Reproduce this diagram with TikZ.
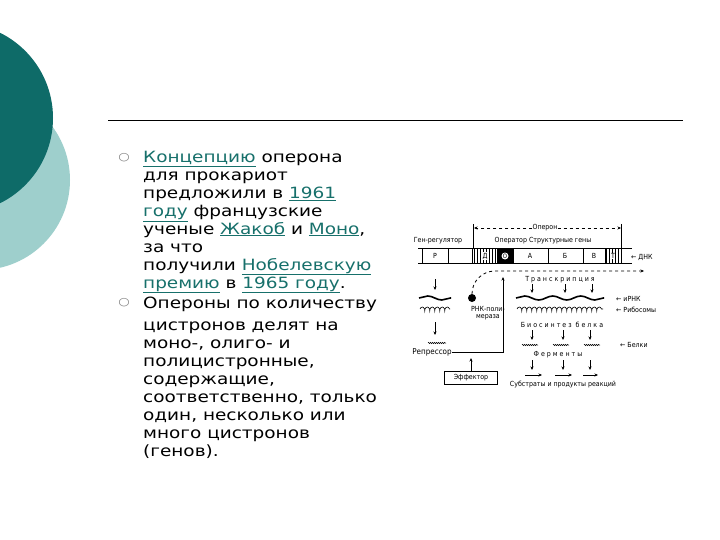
\documentclass[tikz,border=0pt]{standalone}
\usepackage{fontspec}
\setmainfont{DejaVu Sans}[FakeStretch=1.19]
\newfontfamily\dfont{DejaVu Sans Condensed}
\usetikzlibrary{arrows.meta,patterns,decorations.pathmorphing}
\definecolor{dteal}{HTML}{0E6B68}
\definecolor{lteal}{HTML}{9ECFCC}
\definecolor{link}{HTML}{17706B}
\newcommand{\lk}[1]{\textcolor{link}{\underline{#1}}}
\tikzset{tl/.style={anchor=base west,inner sep=0pt,font=\fontsize{15.5}{18}\selectfont},
 sm/.style={inner sep=0pt,font=\dfont\fontsize{7}{7.5}\selectfont},
 ar/.style={-{Stealth[length=3.5pt,width=3pt]},line width=0.8pt},
 wave/.style={line width=1.6pt,decorate,decoration={snake,amplitude=2pt,segment length=28pt}},
 rib/.style={line width=0.6pt,decorate,decoration={coil,amplitude=2pt,segment length=5pt}},
 prot/.style={line width=0.5pt,decorate,decoration={snake,amplitude=0.7pt,segment length=2pt}}}
\begin{document}
\begin{tikzpicture}[x=1pt,y=-1pt]
\useasboundingbox (0,0) rectangle (720,540);
\fill[lteal] (-20,180) circle (90);
\fill[dteal] (-42,118) circle (95);
\draw[line width=0.8pt] (108,120) -- (683,120);
% text
\node[font=\fontsize{11}{11}\selectfont,text=gray] (b1) at (124,158) {○};
\node[font=\fontsize{11}{11}\selectfont,text=gray] (b2) at (124,303) {○};
\node[tl] (t1) at (143,163) {\lk{Концепцию} оперона};
\node[tl] (t2) at (143,181) {для прокариот};
\node[tl] (t3) at (143,199) {предложили в \lk{1961}};
\node[tl] (t4) at (143,217) {\lk{году} французские};
\node[tl] (t5) at (143,234) {ученые \lk{Жакоб} и \lk{Моно},};
\node[tl] (t6) at (143,252) {за что};
\node[tl] (t7) at (143,270) {получили \lk{Нобелевскую}};
\node[tl] (t8) at (143,288) {\lk{премию} в \lk{1965 году}.};
\node[tl] (t9) at (143,308) {Опероны по количеству};
\node[tl] (t10) at (143,330) {цистронов делят на};
\node[tl] (t11) at (143,348) {моно-, олиго- и};
\node[tl] (t12) at (143,366) {полицистронные,};
\node[tl] (t13) at (143,384) {содержащие,};
\node[tl] (t14) at (143,402) {соответственно, только};
\node[tl] (t15) at (143,420) {один, несколько или};
\node[tl] (t16) at (143,438) {много цистронов};
\node[tl] (t17) at (143,456) {(генов).};
% diagram
\node[sm] (op) at (545,228) {Оперон};
\draw[ar,dashed] (op.west) -- (474,228);
\draw[ar,dashed] (op.east) -- (621,228);
\draw[line width=0.8pt] (473,224) -- (473,248) (621,224) -- (621,248);
\node[sm] (gr) at (438,241) {Ген-регулятор};
\node[sm] (os) at (543,241) {Оператор Структурные гены};
% DNA
\draw[line width=0.9pt] (418,248) -- (632,248) (418,263) -- (632,263);
\draw[line width=0.9pt] (422,248) -- (422,263) (448,248) -- (448,263);
\node[sm] (P) at (435,256) {Р};
\draw[line width=0.9pt] (472,248) rectangle (621,263);
\fill[pattern=vertical lines] (472,248) rectangle (497,263);
\node[sm,fill=white,inner sep=0.5pt] (D) at (485,256) {Д};
\fill (497,248) rectangle (513,263);
\node[circle,fill=white,inner sep=0pt,minimum size=7pt,font=\dfont\fontsize{6}{6}\selectfont] (O) at (505,256) {О};
\draw[line width=0.9pt] (513,248) -- (513,263) (548,248) -- (548,263) (583,248) -- (583,263) (605,248) -- (605,263);
\node[sm] (A) at (530,256) {А};
\node[sm] (B) at (565,256) {Б};
\node[sm] (V) at (594,256) {В};
\fill[pattern=vertical lines] (605,248) rectangle (621,263);
\node[sm,fill=white,inner sep=0.5pt] (T) at (613,256) {Т};
\node[sm,anchor=west] (dnk) at (631,257) {← ДНК};
% polymerase
\node[circle,fill,inner sep=0pt,minimum size=8pt] (pol) at (472,298) {};
\coordinate (arrEnd) at (644,271);
\draw[ar,dashed] (pol) to[out=90,in=180] (495,271) -- (arrEnd);
\node[sm,align=center] (pname) at (488,313) {РНК-поли-\\мераза};
% left chain
\draw[ar] (435,279) -- (435,290);
\draw[wave] (419,298) -- (451,298);
\draw[rib] (420,309) -- (450,309);
\draw[ar] (435,322) -- (435,335);
\draw[prot] (428,343) -- (446,343);
\node[sm,font=\dfont\fontsize{8}{8}\selectfont] (rep) at (432,352) {Репрессор};
\draw[ar] (rep.east) -- (503,352) -- (503,277);
\node[draw,line width=0.9pt,minimum width=53pt,minimum height=13pt,sm] (eff) at (471,378) {Эффектор};
\draw[ar] (eff.north) -- (471,358);
% right chain
\node[sm] (tr) at (560,280) {Т р а н с к р и п ц и я};
\foreach \x in {532,565,592}{\draw[ar] (\x,284) -- (\x,293);}
\draw[wave] (516,298) -- (604,298);
\node[sm,anchor=west] (irnk) at (616,299) {← иРНК};
\draw[rib] (517,309) -- (603,309);
\node[sm,anchor=west] (ribs) at (616,310) {← Рибосомы};
\node[sm] (bio) at (562,325) {Б и о с и н т е з\ \ б е л к а};
\foreach \x in {532,563,590}{\draw[ar] (\x,330) -- (\x,340);}
\foreach \x in {522,553,584}{\draw[prot] (\x,345) -- (\x+16,345);}
\node[sm,anchor=west] (bel) at (620,345) {← Белки};
\node[sm] (fer) at (558,355) {Ф е р м е н т ы};
\foreach \x in {532,563,590}{\draw[ar] (\x,360) -- (\x,370);}
\draw[ar] (525,375) -- (542,375);
\draw[ar] (555,375) -- (572,375);
\draw[ar] (583,375) -- (598,375);
\node[sm] (sub) at (563,385) {Субстраты и продукты реакций};
\end{tikzpicture}
\end{document}
